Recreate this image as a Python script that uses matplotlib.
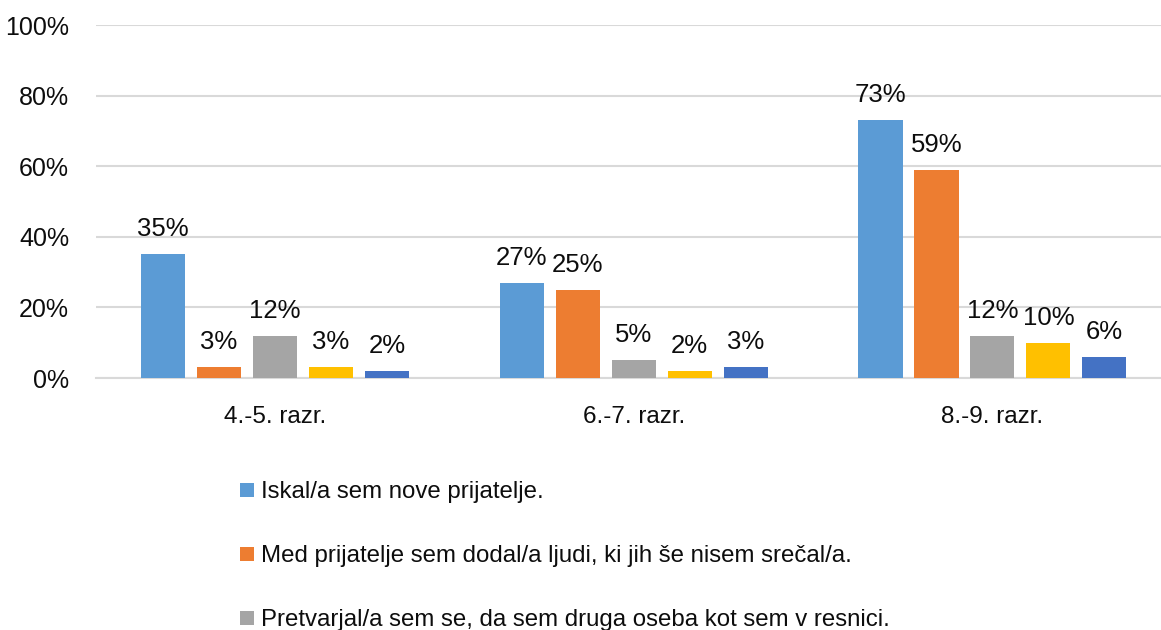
import numpy as np
import matplotlib.pyplot as plt
from matplotlib.ticker import FuncFormatter

plt.rcParams['font.family'] = ['Liberation Sans', 'DejaVu Sans']

# Data
categories = ['4.-5. razr.', '6.-7. razr.', '8.-9. razr.']
series_labels = [
    'Iskal/a sem nove prijatelje.',
    'Med prijatelje sem dodal/a ljudi, ki jih še nisem srečal/a.',
    'Pretvarjal/a sem se, da sem druga oseba kot sem v resnici.',
]
s1 = [35, 27, 73]
s2 = [3, 25, 59]
s3 = [12, 5, 12]
s4 = [3, 2, 10]
s5 = [2, 3, 6]
colors = ['#5B9BD5', '#ED7D31', '#A5A5A5', '#FFC000', '#4472C4']
txt = '#0d0d0d'

fig = plt.figure(figsize=(11.61, 6.30), dpi=100)
ax = fig.add_axes([0.0823, 0.40, 0.927, 0.5603])

x = np.arange(len(categories))
step = 0.156
width = 0.123
bars = []
for i, (vals, col) in enumerate(zip([s1, s2, s3, s4, s5], colors)):
    b = ax.bar(x + (i - 2) * step, vals, width, color=col, zorder=3)
    bars.append(b)
    for xi, v in zip(x + (i - 2) * step, vals):
        ax.annotate(f'{v}%', (xi, v), xytext=(0, 13), textcoords='offset points',
                    ha='center', va='baseline', fontsize=18.5, color=txt)

ax.set_xlim(-0.5, 2.5)
ax.set_ylim(0, 100)
ax.set_yticks(range(0, 101, 20))
ax.yaxis.set_major_formatter(FuncFormatter(lambda v, p: f'{int(v)}%'))
ax.grid(axis='y', color='#d9d9d9', linewidth=1.5, zorder=0)
ax.set_xticks(x)
ax.set_xticklabels(categories)
ax.tick_params(axis='y', length=0, pad=19, labelsize=18, labelcolor=txt)
ax.tick_params(axis='x', length=0, pad=20, labelsize=17.5, labelcolor=txt)
for sp in ['top', 'right', 'left']:
    ax.spines[sp].set_visible(False)
ax.spines['bottom'].set_color('#d9d9d9')
ax.spines['bottom'].set_linewidth(1.5)

fig.legend([b[0] for b in bars[:3]], series_labels, loc='upper left',
           bbox_to_anchor=(0.207, 0.236), frameon=False, fontsize=17.3,
           handlelength=0.55, handleheight=0.55, handletextpad=0.3,
           labelspacing=1.75, borderaxespad=0, borderpad=0, labelcolor=txt)

fig.savefig('out.png', dpi=100)
